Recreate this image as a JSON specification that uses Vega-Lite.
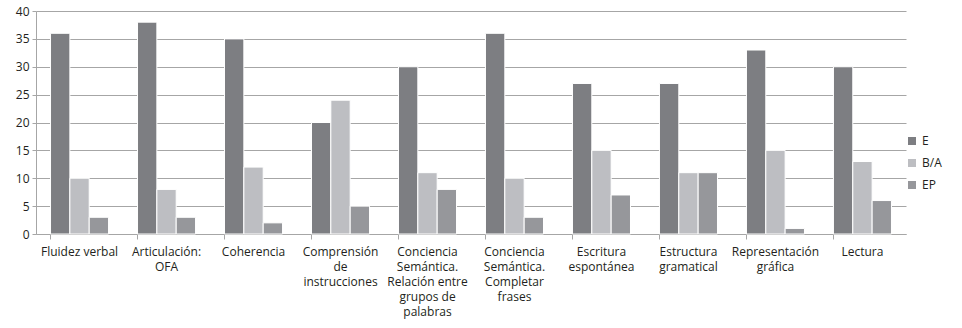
{
  "$schema": "https://vega.github.io/schema/vega-lite/v6.json",
  "width": 870,
  "height": 223,
  "autosize": {"type": "none"},
  "padding": {"left": 36, "top": 11, "right": 56, "bottom": 94},
  "background": "white",
  "data": {
    "values": [
      {"cat": "Fluidez verbal", "serie": "E", "valor": 36},
      {"cat": "Fluidez verbal", "serie": "B/A", "valor": 10},
      {"cat": "Fluidez verbal", "serie": "EP", "valor": 3},
      {"cat": "Articulación:\nOFA", "serie": "E", "valor": 38},
      {"cat": "Articulación:\nOFA", "serie": "B/A", "valor": 8},
      {"cat": "Articulación:\nOFA", "serie": "EP", "valor": 3},
      {"cat": "Coherencia", "serie": "E", "valor": 35},
      {"cat": "Coherencia", "serie": "B/A", "valor": 12},
      {"cat": "Coherencia", "serie": "EP", "valor": 2},
      {"cat": "Comprensión\nde\ninstrucciones", "serie": "E", "valor": 20},
      {"cat": "Comprensión\nde\ninstrucciones", "serie": "B/A", "valor": 24},
      {"cat": "Comprensión\nde\ninstrucciones", "serie": "EP", "valor": 5},
      {"cat": "Conciencia\nSemántica.\nRelación entre\ngrupos de\npalabras", "serie": "E", "valor": 30},
      {"cat": "Conciencia\nSemántica.\nRelación entre\ngrupos de\npalabras", "serie": "B/A", "valor": 11},
      {"cat": "Conciencia\nSemántica.\nRelación entre\ngrupos de\npalabras", "serie": "EP", "valor": 8},
      {"cat": "Conciencia\nSemántica.\nCompletar\nfrases", "serie": "E", "valor": 36},
      {"cat": "Conciencia\nSemántica.\nCompletar\nfrases", "serie": "B/A", "valor": 10},
      {"cat": "Conciencia\nSemántica.\nCompletar\nfrases", "serie": "EP", "valor": 3},
      {"cat": "Escritura\nespontánea", "serie": "E", "valor": 27},
      {"cat": "Escritura\nespontánea", "serie": "B/A", "valor": 15},
      {"cat": "Escritura\nespontánea", "serie": "EP", "valor": 7},
      {"cat": "Estructura\ngramatical", "serie": "E", "valor": 27},
      {"cat": "Estructura\ngramatical", "serie": "B/A", "valor": 11},
      {"cat": "Estructura\ngramatical", "serie": "EP", "valor": 11},
      {"cat": "Representación\ngráfica", "serie": "E", "valor": 33},
      {"cat": "Representación\ngráfica", "serie": "B/A", "valor": 15},
      {"cat": "Representación\ngráfica", "serie": "EP", "valor": 1},
      {"cat": "Lectura", "serie": "E", "valor": 30},
      {"cat": "Lectura", "serie": "B/A", "valor": 13},
      {"cat": "Lectura", "serie": "EP", "valor": 6}
    ]
  },
  "mark": {"type": "bar", "stroke": "white", "strokeWidth": 1},
  "encoding": {
    "x": {
      "field": "cat",
      "type": "nominal",
      "sort": null,
      "scale": {"paddingInner": 0.333, "paddingOuter": 0.167},
      "axis": {
        "title": null,
        "labelAngle": 0,
        "labelExpr": "split(datum.value, '\\n')",
        "labelFont": "Open Sans",
        "labelFontSize": 12,
        "labelColor": "#231f20",
        "labelLineHeight": 15,
        "labelPadding": 7,
        "labelLimit": 200,
        "bandPosition": 0,
        "domainColor": "#a6a6a6",
        "tickColor": "#a6a6a6",
        "tickSize": 5,
        "grid": false
      }
    },
    "xOffset": {"field": "serie", "type": "nominal", "sort": ["E", "B/A", "EP"]},
    "y": {
      "field": "valor",
      "type": "quantitative",
      "scale": {"domain": [0, 40], "nice": false},
      "axis": {
        "title": null,
        "values": [0, 5, 10, 15, 20, 25, 30, 35, 40],
        "labelFont": "Open Sans",
        "labelFontSize": 12,
        "labelColor": "#231f20",
        "labelPadding": 3,
        "domainColor": "#a6a6a6",
        "tickColor": "#a6a6a6",
        "tickSize": 4,
        "gridColor": "#a6a6a6",
        "gridWidth": 1
      }
    },
    "color": {
      "field": "serie",
      "type": "nominal",
      "sort": ["E", "B/A", "EP"],
      "scale": {"domain": ["E", "B/A", "EP"], "range": ["#7d7e82", "#bdbec2", "#96979b"]},
      "legend": {
        "title": null,
        "orient": "none",
        "legendX": 870,
        "legendY": 124,
        "symbolType": "square",
        "symbolSize": 64,
        "symbolStrokeWidth": 0,
        "labelFont": "Open Sans",
        "labelFontSize": 12,
        "labelColor": "#231f20",
        "rowPadding": 10,
        "labelOffset": 4
      }
    }
  },
  "config": {"view": {"stroke": null}}
}
